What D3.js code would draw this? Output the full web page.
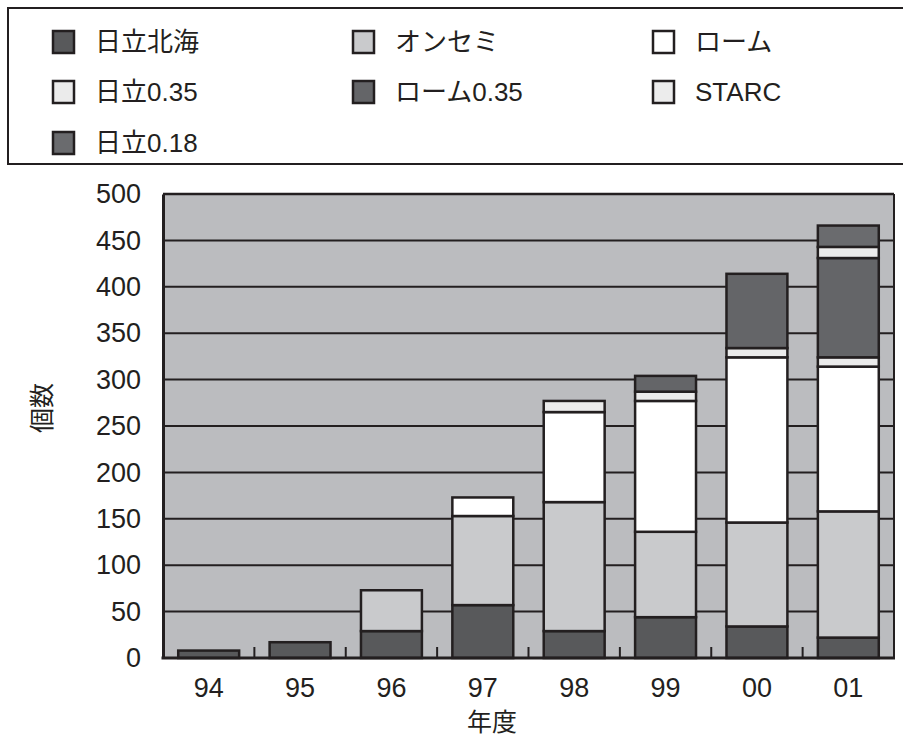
<!DOCTYPE html>
<html>
<head>
<meta charset="utf-8">
<script src="https://cdn.jsdelivr.net/npm/d3@7"></script>
<style>
  html, body { margin: 0; padding: 0; background: #fff; }
  svg { display: block; }
  text { font-family: "Liberation Sans", "Noto Sans CJK JP", sans-serif; fill: #231f20; }
</style>
</head>
<body>
<svg id="chart" width="903" height="739"></svg>
<script>
// Fiscal years (two-digit)
const categories = ["94", "95", "96", "97", "98", "99", "00", "01"];

// Counts per maker / process, stacked bottom to top in this order
const hitachiHokkai = [8, 17, 29, 57, 29, 44, 34, 22];
const onsemi        = [0, 0, 44, 96, 139, 92, 112, 136];
const rohm          = [0, 0, 0, 20, 97, 141, 178, 156];
const hitachi035    = [0, 0, 0, 0, 12, 10, 10, 10];
const rohm035       = [0, 0, 0, 0, 0, 17, 80, 107];
const starc         = [0, 0, 0, 0, 0, 0, 0, 12];
const hitachi018    = [0, 0, 0, 0, 0, 0, 0, 23];

const seriesNames  = ["日立北海", "オンセミ", "ローム", "日立0.35", "ローム0.35", "STARC", "日立0.18"];
const seriesValues = [hitachiHokkai, onsemi, rohm, hitachi035, rohm035, starc, hitachi018];
const seriesColors = ["#58595b", "#c9cacc", "#ffffff", "#ebebeb", "#646568", "#ececec", "#6a6b6e"];

const yTicks = [0, 50, 100, 150, 200, 250, 300, 350, 400, 450, 500];

const ink = "#231f20";
const svg = d3.select("#chart");

// Plot frame
const plotLeft = 163, plotRight = 894, plotTop = 194, plotBottom = 658;

const x = d3.scaleBand()
  .domain(categories)
  .range([plotLeft, plotRight])
  .paddingInner(1 / 3)
  .paddingOuter(1 / 6);

const y = d3.scaleLinear().domain([0, 500]).range([plotBottom, plotTop]);

// Build rows for the stack
const rows = categories.map((c, i) => {
  const r = { cat: c };
  seriesNames.forEach((n, k) => { r[n] = seriesValues[k][i]; });
  return r;
});
const stacked = d3.stack().keys(seriesNames)(rows);

// Background
svg.append("rect")
  .attr("x", plotLeft).attr("y", plotTop)
  .attr("width", plotRight - plotLeft).attr("height", plotBottom - plotTop)
  .attr("fill", "#bbbcbf");

// Horizontal gridlines
svg.append("g").selectAll("line")
  .data(yTicks.filter(t => t > 0))
  .join("line")
  .attr("x1", plotLeft).attr("x2", plotRight)
  .attr("y1", d => y(d)).attr("y2", d => y(d))
  .attr("stroke", ink).attr("stroke-width", 2);

// Stacked bars
const colorOf = d3.scaleOrdinal().domain(seriesNames).range(seriesColors);
svg.append("g").selectAll("g")
  .data(stacked)
  .join("g")
  .attr("fill", d => colorOf(d.key))
  .selectAll("rect")
  .data(d => d.filter(s => s[1] - s[0] > 0))
  .join("rect")
  .attr("x", d => x(d.data.cat))
  .attr("width", x.bandwidth())
  .attr("y", d => y(d[1]))
  .attr("height", d => y(d[0]) - y(d[1]))
  .attr("stroke", ink)
  .attr("stroke-width", 2.5);

// Category boundary ticks pointing into the plot
const boundaries = d3.range(1, categories.length).map(k => plotLeft + x.step() * k);
svg.append("g").selectAll("line")
  .data(boundaries)
  .join("line")
  .attr("x1", d => d).attr("x2", d => d)
  .attr("y1", plotBottom).attr("y2", plotBottom - 11)
  .attr("stroke", ink).attr("stroke-width", 2);

// Frame lines
svg.append("line").attr("x1", plotLeft).attr("x2", plotRight).attr("y1", plotTop).attr("y2", plotTop)
  .attr("stroke", ink).attr("stroke-width", 2.5);
svg.append("line").attr("x1", plotRight).attr("x2", plotRight).attr("y1", plotTop).attr("y2", plotBottom)
  .attr("stroke", ink).attr("stroke-width", 2);

// Axes
const yAxis = svg.append("g")
  .attr("transform", `translate(${plotLeft},0)`)
  .call(d3.axisLeft(y).tickValues(yTicks).tickSize(0).tickPadding(22));
yAxis.select(".domain").attr("stroke", ink).attr("stroke-width", 3);
yAxis.selectAll("text").attr("font-size", 27).attr("fill", ink);

const xAxis = svg.append("g")
  .attr("transform", `translate(0,${plotBottom})`)
  .call(d3.axisBottom(x).tickSize(0).tickPadding(20));
xAxis.select(".domain").attr("stroke", ink).attr("stroke-width", 3)
  .attr("d", `M${plotLeft - 1.5},0H${plotRight + 1}`);
xAxis.selectAll("text").attr("font-size", 27).attr("fill", ink);

// Axis titles
svg.append("text")
  .attr("x", 492).attr("y", 731)
  .attr("text-anchor", "middle")
  .attr("font-size", 25)
  .text("年度");

svg.append("text")
  .attr("transform", "translate(51,408) rotate(-90)")
  .attr("text-anchor", "middle")
  .attr("font-size", 25)
  .text("個数");

// Legend
const legend = svg.append("g");
legend.append("path")
  .attr("d", "M906,8H8V164H906")
  .attr("fill", "none")
  .attr("stroke", ink)
  .attr("stroke-width", 2);

const colX = [52, 352, 652];
const rowY = [42, 92, 143];
const items = legend.selectAll("g.item")
  .data(seriesNames)
  .join("g")
  .attr("class", "item")
  .attr("transform", (d, i) => `translate(${colX[i % 3]},${rowY[Math.floor(i / 3)]})`);
items.append("rect")
  .attr("x", 1).attr("y", -11)
  .attr("width", 21).attr("height", 22)
  .attr("fill", d => colorOf(d))
  .attr("stroke", ink)
  .attr("stroke-width", 2.5);
items.append("text")
  .attr("x", 43).attr("y", 0)
  .attr("dy", "0.36em")
  .attr("font-size", 26)
  .text(d => d);
</script>
</body>
</html>
